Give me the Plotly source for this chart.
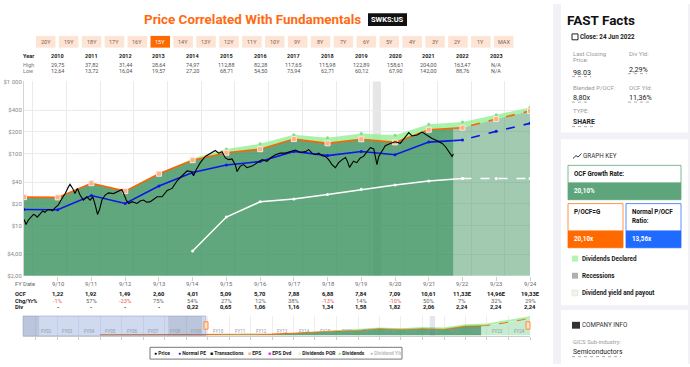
import numpy as np
import pandas as pd
import plotly.graph_objects as go

W, H = 690, 367
FONT = "Roboto, Arial, sans-serif"

# ---------------- data ----------------
fy_years = list(range(2009, 2025))
fy_dates = [f"{y}-09-30" for y in fy_years]
ocf = [1.23, 1.22, 1.92, 1.49, 2.60, 4.01, 5.09, 5.70, 7.88, 6.88, 7.84, 7.09, 10.61, 11.33, 14.96, 19.33]
dividends = [0, 0, 0, 0, 0, 0.22, 0.65, 1.06, 1.16, 1.34, 1.58, 1.82, 2.06, 2.24, 2.24, 2.24]
pocf_g = 20.10
normal_pocf = 13.56
last_price_date = "2022-06-24"

nav_early_years = [2004, 2005, 2006, 2007, 2008]
nav_early_ocf = [0.9, 1.0, 1.0, 1.1, 1.2]

table_fy_labels = ["9/10", "9/11", "9/12", "9/13", "9/14", "9/15", "9/16", "9/17",
                   "9/18", "9/19", "9/20", "9/21", "9/22", "9/23", "9/24"]
table_ocf = ["1,22", "1,92", "1,49", "2,60", "4,01", "5,09", "5,70", "7,88", "6,88",
             "7,84", "7,09", "10,61", "11,33E", "14,96E", "19,33E"]
table_chg = ["-1%", "57%", "-23%", "75%", "54%", "27%", "12%", "38%", "-13%", "14%",
             "-10%", "50%", "7%", "32%", "29%"]
table_div = ["-", "-", "-", "-", "0,22", "0,65", "1,06", "1,16", "1,34", "1,58",
             "1,82", "2,06", "2,24", "2,24", "2,24"]

hl_years = list(range(2010, 2024))
hl_high = ["29,75", "37,82", "31,44", "28,64", "74,97", "112,88", "82,28", "117,65",
           "115,98", "122,89", "158,61", "204,00", "163,47", "N/A"]
hl_low = ["12,64", "13,72", "16,04", "19,57", "27,20", "68,71", "54,50", "73,94",
          "62,71", "60,12", "67,90", "142,00", "88,76", "N/A"]

price_dates = [
    "2009-10-01", "2009-10-22", "2009-11-15", "2009-12-05", "2010-01-10", "2010-01-30",
    "2010-02-20", "2010-03-22", "2010-04-20", "2010-05-15", "2010-06-10", "2010-07-08",
    "2010-08-05", "2010-09-01", "2010-10-07", "2010-11-13", "2010-12-20", "2011-01-24",
    "2011-02-11", "2011-03-11", "2011-04-05", "2011-05-01", "2011-05-30", "2011-07-05",
    "2011-08-11", "2011-09-16", "2011-10-15", "2011-11-10", "2011-12-05", "2011-12-27",
    "2012-01-22", "2012-02-26", "2012-04-02", "2012-05-26", "2012-07-19", "2012-08-25",
    "2012-09-12", "2012-10-11", "2012-11-06", "2012-12-12", "2013-02-05", "2013-03-10",
    "2013-04-17", "2013-05-20", "2013-06-29", "2013-08-01", "2013-09-10", "2013-11-03",
    "2013-12-28", "2014-02-20", "2014-04-15", "2014-06-08", "2014-08-01", "2014-09-13",
    "2014-10-10", "2014-11-09", "2014-12-22", "2015-02-14", "2015-04-09", "2015-06-02",
    "2015-07-08", "2015-08-14", "2015-09-19", "2015-10-25", "2015-11-30", "2016-01-05",
    "2016-01-24", "2016-02-28", "2016-04-04", "2016-05-10", "2016-07-04", "2016-08-28",
    "2016-10-21", "2016-12-14", "2017-01-19", "2017-03-14", "2017-05-08", "2017-07-01",
    "2017-08-24", "2017-10-17", "2017-12-10", "2018-02-02", "2018-03-10", "2018-04-15",
    "2018-05-21", "2018-06-26", "2018-08-01", "2018-09-06", "2018-10-12", "2018-11-17",
    "2018-12-23", "2019-01-28", "2019-03-07", "2019-04-12", "2019-04-30", "2019-05-26",
    "2019-07-08", "2019-08-13", "2019-09-19", "2019-10-25", "2019-12-01", "2020-01-07",
    "2020-02-12", "2020-03-18", "2020-04-05", "2020-05-11", "2020-06-16", "2020-08-09",
    "2020-10-02", "2020-11-25", "2021-01-22", "2021-02-25", "2021-04-02", "2021-05-26",
    "2021-07-19", "2021-09-12", "2021-11-05", "2021-12-30", "2022-02-22", "2022-03-30",
    "2022-05-05", "2022-06-09", "2022-06-24"]
price_values = [
    12.1, 10.3, 11.8, 12.7, 14.2, 13.9,
    13.0, 14.4, 15.9, 15.2, 16.4, 16.6,
    16.0, 17.5, 19.3, 23.5, 27.7, 34.3,
    37.2, 32.7, 27.7, 32.7, 26.4, 22.5,
    25.0, 22.5, 25.0, 19.3, 14.2, 16.6,
    22.5, 26.4, 28.3, 27.7, 30.2, 31.6,
    27.7, 22.5, 20.2, 21.4, 20.2, 21.8,
    22.5, 21.0, 21.4, 23.0, 25.0, 25.0,
    30.6, 32.7, 41.7, 49.0, 57.2, 56.0,
    49.0, 60.0, 74.5, 91.0, 101, 110,
    101, 106, 86.6, 82, 83.8, 70,
    56, 66.7, 70, 63.4, 66.7, 74.5,
    82, 77.9, 86.6, 96, 101, 101,
    106, 111.5, 103, 106, 113, 101,
    96, 101, 93, 91, 82, 70,
    63.4, 74.5, 82, 88, 79.5, 64,
    78, 74.5, 86.6, 91, 106, 120,
    115.7, 70, 90, 110, 128, 138,
    145, 138, 170, 195, 175, 180,
    198, 179, 161, 150, 138, 124,
    106, 91, 98.03]

recessions = [("2001-03-01", "2001-11-30"), ("2007-12-01", "2009-06-30"), ("2020-02-01", "2020-04-30")]

range_buttons = ["20Y", "19Y", "18Y", "17Y", "16Y", "15Y", "14Y", "13Y", "12Y", "11Y", "10Y",
                 "9Y", "8Y", "7Y", "6Y", "5Y", "4Y", "3Y", "2Y", "1Y", "MAX"]
selected_button = "15Y"

y_tickvals = [2, 4, 10, 20, 40, 100, 200, 400, 1000]
y_ticktext = ["$2,00", "$4,00", "$10", "$20", "$40", "$100", "$200", "$400", "$1 000"]

# ---------------- derived ----------------
ocf_a = np.array(ocf)
div_a = np.array(dividends)
orange = ocf_a * pocf_g
blue = ocf_a * normal_pocf
divline = div_a * pocf_g
band_top = (ocf_a + div_a) * pocf_g

t_fy = pd.to_datetime(fy_dates).astype("int64").to_numpy()
t_split = pd.Timestamp(last_price_date).value
n_hist = int(np.sum(t_fy < t_split))


def split_val(arr):
    return float(10 ** np.interp(t_split, t_fy, np.log10(arr)))


def split(arr):
    v = split_val(arr)
    hx = fy_dates[:n_hist] + [last_price_date]
    hy = list(arr[:n_hist]) + [v]
    fx = [last_price_date] + fy_dates[n_hist:]
    fy = [v] + list(arr[n_hist:])
    return hx, hy, fx, fy


def X(px):
    return px / W


def Y(py):
    return 1 - py / H


fig = go.Figure()
GREEN_D = "rgba(58,145,92,0.80)"
GREEN_L = "rgba(58,145,92,0.48)"
BAND = "rgba(140,238,140,0.75)"
ORANGE = "#ff6200"
BLUE = "#0c16e8"

ohx, ohy, ofx, ofy = split(orange)
bhx, bhy, bfx, bfy = split(blue)

# main areas
fig.add_trace(go.Scatter(x=ohx, y=ohy, mode="lines", line=dict(width=0), fill="tozeroy",
                         fillcolor=GREEN_D, hoverinfo="skip"))
fig.add_trace(go.Scatter(x=ofx, y=ofy, mode="lines", line=dict(width=0), fill="tozeroy",
                         fillcolor=GREEN_L, hoverinfo="skip"))
fig.add_trace(go.Scatter(x=fy_dates + fy_dates[::-1], y=list(band_top) + list(orange[::-1]),
                         mode="lines", line=dict(width=0), fill="toself", fillcolor=BAND,
                         hoverinfo="skip"))
# dividend band top markers
idx_div = [i for i, d in enumerate(dividends) if d > 0]
fig.add_trace(go.Scatter(x=[fy_dates[i] for i in idx_div], y=[band_top[i] for i in idx_div],
                         mode="markers", marker=dict(size=3, color="#7fe07f"), hoverinfo="skip"))
# white dividend line
i0 = idx_div[0]
i22 = fy_years.index(2022)
fig.add_trace(go.Scatter(x=fy_dates[i0:i22 + 1], y=divline[i0:i22 + 1], mode="lines+markers",
                         line=dict(color="white", width=1.5), marker=dict(size=3, color="white"),
                         hoverinfo="skip"))
fig.add_trace(go.Scatter(x=fy_dates[i22:], y=divline[i22:], mode="lines+markers",
                         line=dict(color="white", width=1.5, dash="dash"),
                         marker=dict(size=3, color="white"), hoverinfo="skip"))
# blue normal line
fig.add_trace(go.Scatter(x=bhx, y=bhy, mode="lines", line=dict(color=BLUE, width=1.6), hoverinfo="skip"))
fig.add_trace(go.Scatter(x=bfx, y=bfy, mode="lines", line=dict(color=BLUE, width=1.6, dash="dash"),
                         hoverinfo="skip"))
fig.add_trace(go.Scatter(x=fy_dates, y=blue, mode="markers", marker=dict(size=3, color=BLUE),
                         hoverinfo="skip"))
# orange line
fig.add_trace(go.Scatter(x=ohx, y=ohy, mode="lines", line=dict(color=ORANGE, width=1.6), hoverinfo="skip"))
fig.add_trace(go.Scatter(x=ofx, y=ofy, mode="lines", line=dict(color=ORANGE, width=1.6, dash="dash"),
                         hoverinfo="skip"))
fig.add_trace(go.Scatter(x=fy_dates, y=orange, mode="markers",
                         marker=dict(size=5, symbol="square", color="#fbb08a",
                                     line=dict(color="#ffe6d8", width=1)), hoverinfo="skip"))
# price
fig.add_trace(go.Scatter(x=price_dates, y=price_values, mode="lines",
                         line=dict(color="black", width=1.1), hoverinfo="skip"))

# navigator
nav_dates_early = [f"{y}-09-30" for y in nav_early_years]
nav_orange_early = [v * pocf_g for v in nav_early_ocf]
fig.add_trace(go.Scatter(x=nav_dates_early + ohx, y=nav_orange_early + ohy, mode="lines",
                         line=dict(color=ORANGE, width=1.2), fill="tozeroy", fillcolor=GREEN_D,
                         xaxis="x2", yaxis="y2", hoverinfo="skip"))
fig.add_trace(go.Scatter(x=ofx, y=ofy, mode="lines", line=dict(color=ORANGE, width=1.2, dash="dash"),
                         fill="tozeroy", fillcolor="rgba(150,220,170,0.55)",
                         xaxis="x2", yaxis="y2", hoverinfo="skip"))
fig.add_trace(go.Scatter(x=fy_dates + fy_dates[::-1], y=list(band_top) + list(orange[::-1]),
                         mode="lines", line=dict(width=0), fill="toself", fillcolor=BAND,
                         xaxis="x2", yaxis="y2", hoverinfo="skip"))

shapes = []
annotations = []


def rect(x0, y0, x1, y1, fill, line=None, lw=0, layer="below"):
    shapes.append(dict(type="rect", xref="paper", yref="paper", x0=X(x0), x1=X(x1),
                       y0=Y(y1), y1=Y(y0), fillcolor=fill,
                       line=dict(color=line or fill, width=lw), layer=layer))


def hline(x0, x1, y, color="#888", width=0.7, dash="dot"):
    shapes.append(dict(type="line", xref="paper", yref="paper", x0=X(x0), x1=X(x1), y0=Y(y), y1=Y(y),
                       line=dict(color=color, width=width, dash=dash), layer="above"))


def ann(text, x, y, size=6, color="#333", xanchor="left", bold=False, xref="paper", family=FONT):
    if bold:
        text = f"<b>{text}</b>"
    annotations.append(dict(text=text, x=X(x) if xref == "paper" else x, y=Y(y), xref=xref,
                            yref="paper", xanchor=xanchor, yanchor="middle", showarrow=False,
                            font=dict(size=size, color=color, family=family), borderpad=0))


# right panel
rect(553, 0, 690, 367, "#f1f1f6")
rect(561, -4, 688, 131, "white")
rect(561, 138, 688, 307, "white")
rect(561, 312, 688, 372, "white")

ann("FAST Facts", 566, 16, size=13.5, color="#111", bold=True)
rect(572, 30.5, 578, 36.5, "white", "#222", 1, layer="above")
ann("Close: 24 Jun 2022", 579, 33.5, size=6.3, color="#222", bold=True)
ann("Last Closing", 572, 50, size=6, color="#999")
ann("Price:", 572, 57, size=6, color="#999")
ann("98.03", 572, 69.5, size=7.2, color="#222")
hline(572, 591, 74)
ann("Div Yld:", 628, 50, size=6, color="#999")
ann("2,29%", 628, 66.5, size=7.2, color="#222")
hline(628, 647, 71)
ann("Blended P/OCF:", 572, 85, size=6, color="#999")
ann("8,80x", 572, 95.7, size=7.2, color="#222")
hline(572, 589, 100)
ann("OCF Yld:", 628, 85, size=6, color="#999")
ann("11,36%", 628, 95.7, size=7.2, color="#222")
hline(628, 650, 100)
ann("TYPE:", 572, 108.7, size=6, color="#999")
ann("SHARE", 572, 120.5, size=6.8, color="#222", bold=True)
hline(572, 593, 125)

# graph key
shapes.append(dict(type="path", xref="paper", yref="paper", layer="above",
                   path=f"M {X(573)},{Y(157.5)} L {X(576)},{Y(154.5)} L {X(578)},{Y(156)} L {X(581.5)},{Y(152.5)}",
                   line=dict(color="#333", width=1)))
ann("GRAPH KEY", 582, 155, size=6.3, color="#333")
rect(568, 164.5, 681, 182.5, "white", "#5fa57b", 0.8)
rect(568, 182.5, 681, 199.5, "#5fa57b", "#5fa57b", 0.8)
ann("OCF Growth Rate:", 573, 173.7, size=6.3, color="#111", bold=True)
ann("20,10%", 573, 190.7, size=6.3, color="white", bold=True)
rect(568, 203.5, 623, 231.5, "white", "#ff7a1a", 0.8)
rect(568, 231.5, 623, 248.5, "#ff6a00", "#ff6a00", 0.8)
ann("P/OCF=G", 573, 212.3, size=6.3, color="#111", bold=True)
ann("20,10x", 573, 239.5, size=6.3, color="white", bold=True)
rect(626, 203.5, 681, 231.5, "white", "#2b73ff", 0.8)
rect(626, 231.5, 681, 248.5, "#1f6bff", "#1f6bff", 0.8)
ann("Normal P/OCF", 631, 212.3, size=6.3, color="#111", bold=True)
ann("Ratio:", 631, 221, size=6.3, color="#111", bold=True)
ann("13,56x", 631, 239.5, size=6.3, color="white", bold=True)
rect(572, 256.5, 578, 262.5, "#b3f5ad")
ann("Dividends Declared", 580.5, 259.5, size=6.3, color="#222", bold=True)
rect(572, 274, 578, 280, "#b0b0b0")
ann("Recessions", 580.5, 277, size=6.3, color="#222", bold=True)
rect(572, 291.5, 578, 297.5, "#eef5ea", "#d8e4d2", 0.6)
ann("Dividend yield and payout", 580.5, 294.5, size=6.3, color="#222", bold=True)

# company info
rect(572, 324, 580, 331, "#333", layer="above")
ann("COMPANY INFO", 581, 327.7, size=6.3, color="#333")
ann("GICS Sub-industry:", 572, 344.3, size=5.8, color="#999")
ann("Semiconductors", 572, 355, size=6.8, color="#222")
hline(572, 621, 359.5)

# title
ann("Price Correlated With Fundamentals", 253, 15.5, size=13.4, color="#ff6a13", bold=True,
    xanchor="center")
rect(368, 9.5, 407, 22.5, "#111", layer="above")
ann("SWKS:US", 387.5, 16, size=7.5, color="white", bold=True, xanchor="center")

# buttons
for i, lab in enumerate(range_buttons):
    x0 = 36 + i * 22.9
    sel = lab == selected_button
    rect(x0, 32.5, x0 + 19.5, 44.5, "#ff6a00" if sel else "#fde4d5")
    ann(lab, x0 + 9.75, 38.5, size=5.5, color="white" if sel else "#7a6256", xanchor="center")

# year header
ann("Year", 22, 52.7, size=5.5, color="#222", bold=True)
ann("High", 22, 61.7, size=5.5, color="#777")
ann("Low", 22, 68.7, size=5.5, color="#777")
for yr, hi, lo in zip(hl_years, hl_high, hl_low):
    d = f"{yr}-09-30"
    ann(str(yr), d, 52.7, size=5.5, color="#222", bold=True, xanchor="center", xref="x")
    ann(hi, d, 61.7, size=5.5, color="#555", xanchor="center", xref="x")
    ann(lo, d, 68.7, size=5.5, color="#555", xanchor="center", xref="x")

# table under chart
ann("FY Date", 14, 285.7, size=5.8, color="#666")
ann("OCF", 14, 296, size=5.8, color="#222", bold=True)
ann("Chg/Yr%", 14, 302.7, size=5.8, color="#222", bold=True)
ann("Div", 14, 309.3, size=5.8, color="#222", bold=True)
for k, d in enumerate(fy_dates[1:]):
    ann(table_fy_labels[k], d, 285.7, size=5.8, color="#666", xanchor="center", xref="x")
    ann(table_ocf[k], d, 296, size=5.8, color="#111", bold=True, xanchor="center", xref="x")
    neg = table_chg[k].startswith("-")
    ann(table_chg[k], d, 302.7, size=5.8, color="#e8605a" if neg else "#666", xanchor="center", xref="x")
    ann(table_div[k], d, 309.3, size=5.8, color="#111", bold=True, xanchor="center", xref="x")

# recession in main chart
for r0, r1 in recessions:
    if r0 > fy_dates[0]:
        shapes.append(dict(type="rect", xref="x", yref="paper", x0=r0, x1=r1, y0=Y(277), y1=Y(79),
                           fillcolor="#e6e6e6", line=dict(width=0), layer="below"))

# navigator decorations
shapes.append(dict(type="rect", xref="paper", yref="paper", x0=X(23), x1=X(206), y0=Y(338), y1=Y(318),
                   fillcolor="rgba(110,140,205,0.33)", line=dict(color="rgba(120,140,190,0.5)", width=0.8),
                   layer="above"))
for r0, r1 in recessions:
    shapes.append(dict(type="rect", xref="x2", yref="paper", x0=r0, x1=r1, y0=Y(338), y1=Y(318),
                       fillcolor="rgba(90,100,130,0.16)", line=dict(width=0), layer="above"))
for hx in (206, 528):
    rect(hx - 2, 324, hx + 2, 331.5, "#ffe2cc", "#ff8a3d", 1, layer="above")
for y in range(2002, 2025):
    ann(f"FY{y % 100:02d}", f"{y}-04-01", 334, size=4.5, color="#999", xanchor="center", xref="x2")

# legend
rect(150, 350, 402, 362, "white", "#777", 1)
legend_items = [
    ("●", "#000", "Price", 153, "#222"),
    ("●", BLUE, "Normal PE", 177, "#222"),
    ("■", "#111", "Transactions", 209, "#222"),
    ("■", "#fbb08a", "EPS", 247, "#222"),
    ("■", "#e83ee8", "EPS Dvd", 267, "#222"),
    ("■", "#e3f3c6", "Dividends POR", 297, "#222"),
    ("●", "#7fe07f", "Dividends", 337, "#222"),
    ("●", "#bbbbbb", "Dividend Yld", 369, "#bbbbbb"),
]
for sym, scol, lab, lx, tcol in legend_items:
    ann(f"<span style='color:{scol}'>{sym}</span> <b>{lab}</b>", lx, 356, size=5, color=tcol)

fig.update_layout(
    width=W, height=H, autosize=False,
    margin=dict(l=0, r=0, t=0, b=0),
    paper_bgcolor="white", plot_bgcolor="rgba(0,0,0,0)",
    showlegend=False,
    font=dict(family=FONT),
    shapes=shapes, annotations=annotations,
    xaxis=dict(domain=[X(24), X(530)], range=["2009-09-30", "2024-09-30"], type="date",
               tick0="2010-01-01", dtick="M12", showgrid=True, gridcolor="#ebebeb", gridwidth=1,
               showticklabels=False, ticks="", zeroline=False, showline=False,
               minor=dict(tickmode="array", tickvals=fy_dates[1:], ticks="outside", ticklen=4,
                          tickcolor="#d0d0d0", showgrid=False)),
    yaxis=dict(domain=[Y(277), Y(79)], type="log", range=[np.log10(2), 3],
               tickvals=y_tickvals, ticktext=y_ticktext, showgrid=True, gridcolor="#ebebeb",
               tickfont=dict(size=6, color="#888", family=FONT), showline=True, linecolor="#d5d5d5",
               ticks="", zeroline=False, fixedrange=True),
    xaxis2=dict(domain=[X(23), X(530)], range=["2001-03-01", "2024-09-30"], type="date", anchor="y2",
                tickmode="array", tickvals=[f"{y}-09-30" for y in range(2001, 2025)],
                showticklabels=False, ticks="outside", ticklen=3, tickcolor="#cccccc",
                showgrid=True, gridcolor="#eeeeee", showline=True, linecolor="#cccccc", zeroline=False),
    yaxis2=dict(domain=[Y(338), Y(318)], range=[0, 440], anchor="x2", showgrid=False,
                showticklabels=False, zeroline=False, showline=False),
)

fig.write_html("out.html", config={"displayModeBar": False, "staticPlot": True},
               post_script="document.body.style.margin='0px';document.body.style.overflow='hidden';")
